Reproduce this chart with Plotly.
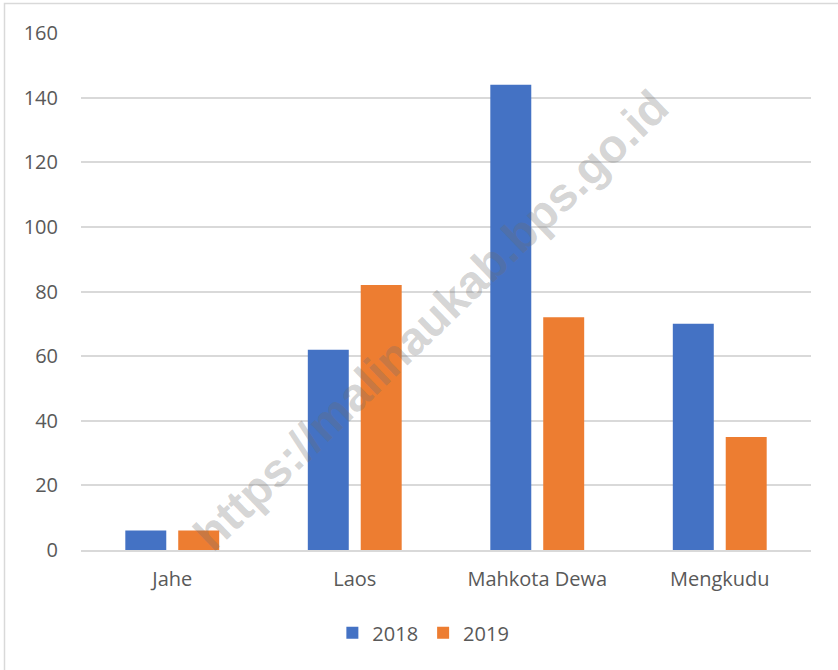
import plotly.graph_objects as go

categories = ["Jahe", "Laos", "Mahkota Dewa", "Mengkudu"]
values_2018 = [6, 62, 144, 70]
values_2019 = [6, 82, 72, 35]
series_names = ["2018", "2019"]
y_ticks = [0, 20, 40, 60, 80, 100, 120, 140, 160]

W, H = 838, 670
L, R, T, B = 81, 27, 33, 120
pw, ph = W - L - R, H - T - B

fig = go.Figure()
fig.add_trace(go.Bar(x=categories, y=values_2018, name=series_names[0],
                     marker=dict(color="#4472C4", line=dict(width=0))))
fig.add_trace(go.Bar(x=categories, y=values_2019, name=series_names[1],
                     marker=dict(color="#ED7D31", line=dict(width=0))))

font = "Open Sans, Liberation Sans, sans-serif"
fs = 20
fig.update_layout(
    width=W, height=H,
    margin=dict(l=L, r=R, t=T, b=B),
    paper_bgcolor="white", plot_bgcolor="white",
    barmode="group", bargap=0.42, bargroupgap=0.226,
    font=dict(family=font, size=fs, color="#595959"),
    showlegend=True,
    legend=dict(orientation="h", x=0.469, xanchor="center", y=-0.16, yanchor="middle",
                font=dict(size=fs, color="#595959"), itemwidth=30, traceorder="normal"),
    xaxis=dict(showgrid=False, showline=True, linecolor="#D9D9D9", linewidth=1.5,
               ticks="", tickfont=dict(size=fs, color="#595959"), ticklabelstandoff=10),
    yaxis=dict(range=[0, 160], tickvals=y_ticks, showgrid=True, gridcolor="#D9D9D9",
               gridwidth=1.5, zeroline=False, showline=False, ticks="",
               tickfont=dict(size=fs, color="#595959"), ticklabelstandoff=22),
    shapes=[dict(type="rect", xref="paper", yref="paper",
                 x0=(4.5 - L) / pw, x1=(W + 10 - L) / pw,
                 y0=-(H + 10 - T - ph) / ph, y1=1 + (T - 3.5) / ph,
                 line=dict(color="#D9D9D9", width=1.5), fillcolor="rgba(0,0,0,0)",
                 layer="below")],
    annotations=[dict(text="<b>https://malinaukab.bps.go.id</b>", xref="paper", yref="paper",
                      x=(430 - L) / pw, y=1 - (320 - T) / ph, showarrow=False,
                      textangle=-44, font=dict(family="Liberation Sans, Arial, sans-serif",
                                               size=47, color="rgba(110,110,110,0.3)"))],
)

fig.write_html("out.html", config={"displayModeBar": False},
               post_script="document.body.style.margin='0';document.body.style.overflow='hidden';")
